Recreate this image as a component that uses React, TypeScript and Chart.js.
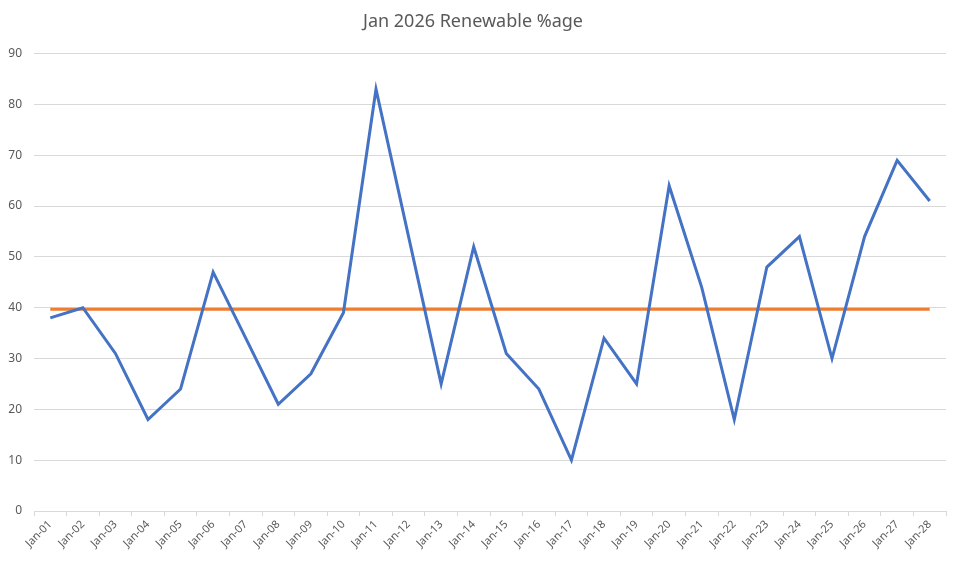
import React, { useEffect, useRef } from "react";
import { Chart, registerables } from "chart.js";

Chart.register(...registerables);

const labels = [
  "Jan-01", "Jan-02", "Jan-03", "Jan-04", "Jan-05", "Jan-06", "Jan-07",
  "Jan-08", "Jan-09", "Jan-10", "Jan-11", "Jan-12", "Jan-13", "Jan-14",
  "Jan-15", "Jan-16", "Jan-17", "Jan-18", "Jan-19", "Jan-20", "Jan-21",
  "Jan-22", "Jan-23", "Jan-24", "Jan-25", "Jan-26", "Jan-27", "Jan-28",
];

const renewable = [
  38, 40, 31, 18, 24, 47, 34, 21, 27, 39, 83, 54, 25, 52,
  31, 24, 10, 34, 25, 64, 44, 18, 48, 54, 30, 54, 69, 61,
];

const average = labels.map(() => 39.7);

const titleText = "Jan 2026 Renewable %age";
const FONT = "'Noto Sans', 'Liberation Sans', sans-serif";

export default function App() {
  const ref = useRef<HTMLCanvasElement | null>(null);

  useEffect(() => {
    document.body.style.margin = "0";
    const ctx = ref.current!;
    const chart = new Chart(ctx, {
      type: "line",
      data: {
        labels,
        datasets: [
          {
            label: "Renewable %",
            data: renewable,
            borderColor: "#4472C4",
            backgroundColor: "#4472C4",
            borderWidth: 3,
            pointRadius: 0,
            tension: 0,
          },
          {
            label: "Average",
            data: average,
            borderColor: "#ED7D31",
            backgroundColor: "#ED7D31",
            borderWidth: 3,
            pointRadius: 0,
            tension: 0,
          },
        ],
      },
      options: {
        responsive: false,
        animation: false,
        layout: { padding: { left: 0, right: 13, top: 0, bottom: 0 } },
        plugins: {
          legend: { display: false },
          tooltip: { enabled: false },
          title: {
            display: true,
            text: titleText,
            color: "#595959",
            font: { family: FONT, size: 18, weight: "normal" },
            padding: { top: 11, bottom: 21 },
          },
        },
        scales: {
          x: {
            offset: true,
            grid: {
              display: true,
              offset: true,
              drawOnChartArea: false,
              drawTicks: true,
              tickLength: 5,
              color: "#d9d9d9",
            },
            border: { display: true, color: "#d9d9d9" },
            ticks: {
              color: "#595959",
              font: { family: FONT, size: 11 },
              minRotation: 45,
              maxRotation: 45,
              autoSkip: false,
              padding: 2,
            },
            afterFit: (scale: any) => {
              scale.height = 51;
            },
          },
          y: {
            min: 0,
            max: 90,
            ticks: {
              stepSize: 10,
              color: "#595959",
              font: { family: FONT, size: 12 },
              padding: 12,
            },
            grid: { color: "#d9d9d9", drawTicks: false },
            border: { display: false },
            afterFit: (scale: any) => {
              scale.width = 34;
            },
          },
        },
      },
    });
    return () => chart.destroy();
  }, []);

  return (
    <div style={{ position: "absolute", left: 0, top: 0, width: 959, height: 562, background: "#fff" }}>
      <canvas ref={ref} width={959} height={562} />
    </div>
  );
}
